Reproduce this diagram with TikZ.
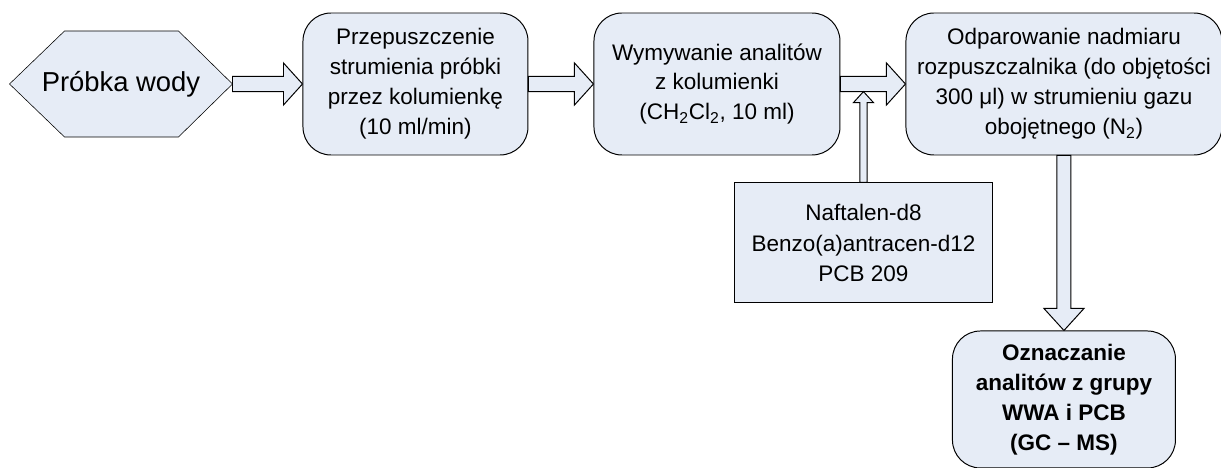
\documentclass[tikz,border=0pt]{standalone}
\usepackage{fontspec}
\setmainfont{Liberation Sans}
\usetikzlibrary{positioning,calc,backgrounds}
\definecolor{boxfill}{RGB}{230,236,246}

\begin{document}
\begin{tikzpicture}[node distance=1.625cm, line width=0.7pt,
  stage/.style={rectangle, rounded corners=0.7cm, draw, fill=boxfill, align=center, minimum height=3.55cm, font=\fontsize{16}{21.3}\selectfont},
  flow/.style n args={3}{draw, fill=boxfill, to path={
    let \p1=(\tikztostart), \p2=(\tikztotarget), \n1={veclen(\x2-\x1,\y2-\y1)},
        \n2={(\x2-\x1)/\n1}, \n3={(\y2-\y1)/\n1} in
    ({\x1-(\n3)*#1},{\y1+(\n2)*#1})
    -- ({\x2-(\n2)*#3-(\n3)*#1},{\y2-(\n3)*#3+(\n2)*#1})
    -- ({\x2-(\n2)*#3-(\n3)*#2},{\y2-(\n3)*#3+(\n2)*#2})
    -- (\x2,\y2)
    -- ({\x2-(\n2)*#3+(\n3)*#2},{\y2-(\n3)*#3-(\n2)*#2})
    -- ({\x2-(\n2)*#3+(\n3)*#1},{\y2-(\n3)*#3-(\n2)*#1})
    -- ({\x1+(\n3)*#1},{\y1-(\n2)*#1}) -- cycle}}]
\useasboundingbox (0,0) rectangle (30.525,-11.7);

\node (sample) [minimum width=5.55cm, minimum height=2.625cm, inner sep=0pt, font=\fontsize{19.5}{23}\selectfont] at (3.025,-2.1) {Próbka wody};
\begin{scope}[on background layer]
\draw[fill=boxfill] (sample.west) -- ([xshift=1.375cm]sample.north west) -- ([xshift=-1.35cm]sample.north east) -- (sample.east)
  -- ([xshift=-1.35cm]sample.south east) -- ([xshift=1.375cm]sample.south west) -- cycle;
\end{scope}

\node (pass) [stage, right=1.75cm of sample, minimum width=5.625cm] {Przepuszczenie\\strumienia próbki\\przez kolumienkę\\(10 ml/min)};
\node (elute) [stage, right=of pass, minimum width=6.15cm] {Wymywanie analitów\\z kolumienki\\(CH\textsubscript{2}Cl\textsubscript{2}, 10 ml)};
\node (evap) [stage, right=of elute, minimum width=7.9cm] {Odparowanie nadmiaru\\rozpuszczalnika (do objętości\\300 μl) w strumieniu gazu\\obojętnego (N\textsubscript{2})};

% internal standards
\node (std) [rectangle, draw, fill=boxfill, align=center, minimum width=6.45cm, minimum height=3cm, font=\fontsize{16}{21.8}\selectfont, below=0.675cm of elute.south east, xshift=0.575cm] {Naftalen-d8\\Benzo(a)antracen-d12\\PCB 209};
\coordinate[yshift=-0.19cm] (join) at (std.north |- elute.east);

\node (gcms) [stage, below=4.375cm of evap, minimum width=5.575cm, minimum height=3.425cm, font=\fontsize{16}{21.3}\selectfont\bfseries] {Oznaczanie\\analitów z grupy\\WWA i PCB\\(GC – MS)};

% block arrows
\draw[flow={0.19cm}{0.525cm}{0.475cm}] (sample.east) to (pass.west);
\draw[flow={0.19cm}{0.525cm}{0.475cm}] (pass.east) to (elute.west);
\draw[flow={0.19cm}{0.525cm}{0.475cm}] (elute.east) to (evap.west);
\draw[flow={0.09cm}{0.25cm}{0.275cm}] (std.north) to (join);
\draw[flow={0.175cm}{0.5cm}{0.55cm}] (evap.south) to (gcms.north);

\end{tikzpicture}
\end{document}
